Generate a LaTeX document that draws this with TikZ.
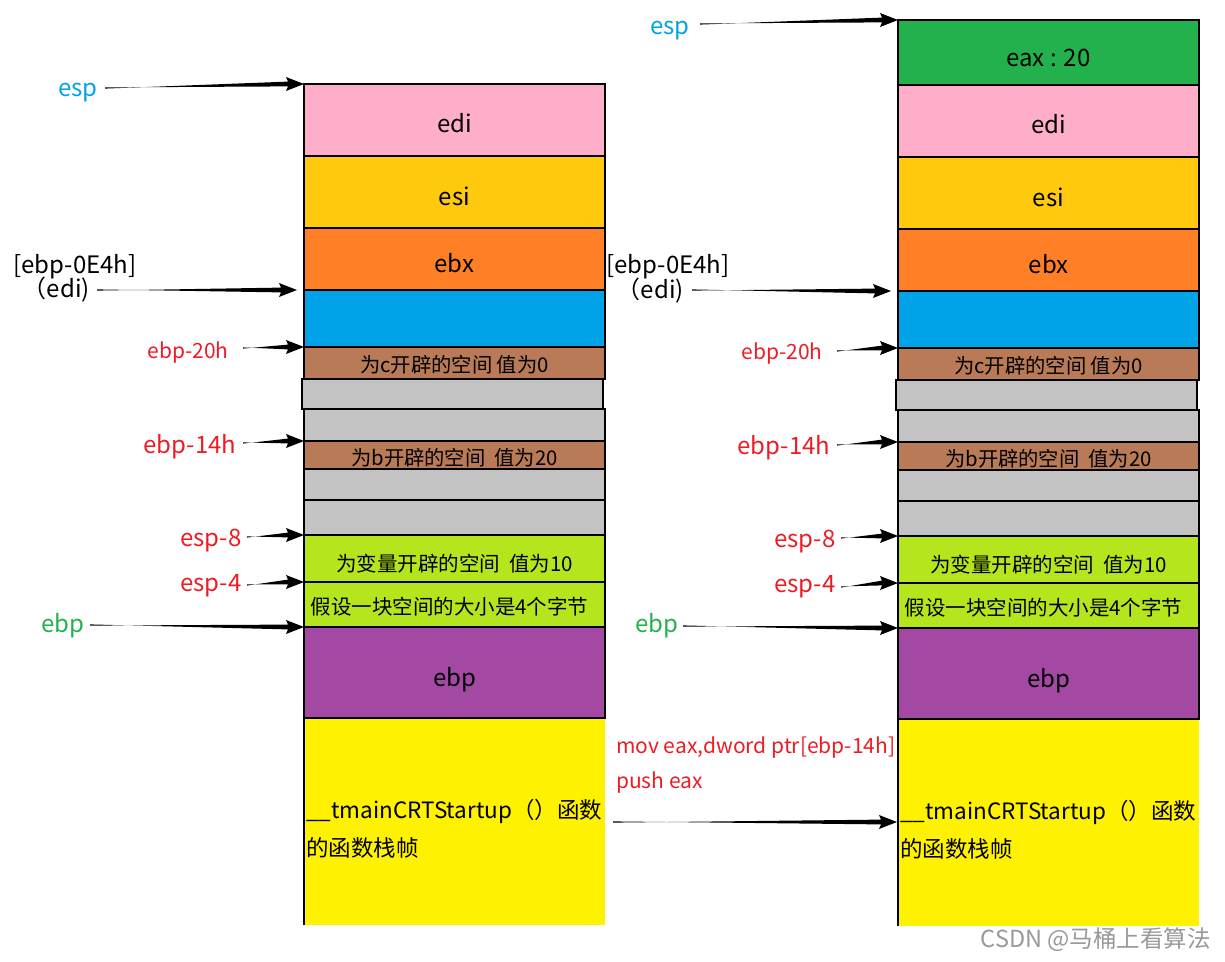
\documentclass[tikz,border=0pt]{standalone}
\usepackage{fontspec}
\setmainfont{Noto Sans CJK SC}
\usetikzlibrary{arrows.meta}
\definecolor{cpink}{HTML}{FFAEC9}
\definecolor{cgold}{HTML}{FFC90E}
\definecolor{corange}{HTML}{FF7F27}
\definecolor{cblue}{HTML}{00A2E8}
\definecolor{cbrown}{HTML}{B97A57}
\definecolor{cgray}{HTML}{C3C3C3}
\definecolor{clime}{HTML}{B5E61D}
\definecolor{cpurple}{HTML}{A349A4}
\definecolor{cyellow}{HTML}{FFF200}
\definecolor{cgreen}{HTML}{22B14C}
\definecolor{cred}{HTML}{ED1C24}
\newcommand\myfs[1]{\fontsize{#1}{#1}\selectfont}
\newcommand\dn[2]{\raisebox{-#1pt}[\height][\depth]{#2}}
\tikzset{
  blockbox/.style={draw=black, line width=1.5pt, inner sep=0pt, outer sep=0pt, minimum width=301pt, anchor=north west},
  lbl/.style={inner sep=0pt, font=\myfs{24}},
  redlbl/.style={lbl, text=cred},
  taper/.style={to path={([yshift=0.6pt]\tikztostart) -- ([shift={(-16,2.4)}]\tikztotarget) -- ([shift={(-18,7)}]\tikztotarget) -- (\tikztotarget) -- ([shift={(-18,-7)}]\tikztotarget) -- ([shift={(-16,-2.4)}]\tikztotarget) -- ([yshift=-0.6pt]\tikztostart) -- cycle}},
}
\begin{document}
\begin{tikzpicture}[x=1pt,y=-1pt]
\useasboundingbox (0,0) rectangle (1225,961);
\foreach \p/\dx/\dy in {L/0/0,R/594/1}{
  \node[blockbox, fill=cpink, minimum height=72pt, font=\myfs{24}] (\p edi) at (304+\dx,84+\dy) {\dn{3}{edi}};
  \node[blockbox, fill=cgold, minimum height=72pt, font=\myfs{24}] (\p esi) at (304+\dx,156+\dy) {\dn{4}{esi}};
  \node[blockbox, fill=corange, minimum height=62pt, font=\myfs{24}] (\p ebx) at (304+\dx,228+\dy) {\dn{4}{ebx}};
  \node[blockbox, fill=cblue, minimum height=57pt] (\p blue) at (304+\dx,290+\dy) {};
  \node[blockbox, fill=cbrown, minimum height=32pt, font=\myfs{20.3}] (\p brc) at (304+\dx,347+\dy) {\dn{2}{为c开辟的空间 值为0}};
  \node[blockbox, fill=cgray, minimum height=30pt] (\p gra) at (302+\dx,379+\dy) {};
  \node[blockbox, fill=cgray, minimum height=32pt] (\p grb) at (304+\dx,409+\dy) {};
  \node[blockbox, fill=cbrown, minimum height=28pt, font=\myfs{20.3}] (\p brb) at (304+\dx,441+\dy) {\dn{3}{为b开辟的空间\ \ 值为20}};
  \node[blockbox, fill=cgray, minimum height=31pt] (\p grc) at (304+\dx,469+\dy) {};
  \node[blockbox, fill=cgray, minimum height=35pt] (\p grd) at (304+\dx,500+\dy) {};
  \node[blockbox, fill=clime, minimum height=47pt, font=\myfs{20.5}] (\p lma) at (304+\dx,535+\dy) {\dn{5}{为变量开辟的空间\ \ 值为10}};
  \node[blockbox, fill=clime, minimum height=45pt, font=\myfs{20.5}] (\p lmb) at (304+\dx,582+\dy) {\dn{2}{\hspace*{-10pt}假设一块空间的大小是4个字节}};
  \node[fill=cyellow, inner sep=0pt, outer sep=0pt, minimum width=301pt, minimum height=207pt, anchor=north west] (\p yel) at (304+\dx,718+\dy) {};
  \draw[line width=1.5pt] (\p yel.north west) -- (\p yel.south west);
  \node[blockbox, fill=cpurple, minimum height=91pt, font=\myfs{24}] (\p pur) at (304+\dx,627+\dy) {\dn{7}{ebp}};
  \node[anchor=west, align=left, inner sep=0pt, font=\myfs{22.5}] (\p ytx) at (306+\dx,829+\dy) {\_\_tmainCRTStartup（）函数\\[13pt]的函数栈帧};
}
\node[blockbox, fill=cgreen, minimum height=65pt, font=\myfs{24}] (Reax) at (898,20) {\dn{5}{eax : 20}};

% left labels
\node[lbl, text=cblue] (Lesp) at (78,93) {esp};
\node[lbl] (Lebp0) at (75,267) {[ebp-0E4h]};
\node[lbl, anchor=east] (Ledil) at (90,290) {（edi)};
\node[redlbl, font=\myfs{21}] (Le20) at (188,353) {ebp-20h};
\node[redlbl] (Le14) at (190,447) {ebp-14h};
\node[redlbl] (Le8) at (211,541) {esp-8};
\node[redlbl] (Le4) at (211,586) {esp-4};
\node[lbl, text=cgreen] (Lebp) at (63,626) {ebp};
% right labels
\node[lbl, text=cblue] (Resp) at (670,31) {esp};
\node[lbl] (Rebp0) at (668,267) {[ebp-0E4h]};
\node[lbl, anchor=east] (Redil) at (684,291) {（edi)};
\node[redlbl, font=\myfs{21}] (Re20) at (782,354) {ebp-20h};
\node[redlbl] (Re14) at (784,448) {ebp-14h};
\node[redlbl] (Re8) at (805,542) {esp-8};
\node[redlbl] (Re4) at (805,587) {esp-4};
\node[lbl, text=cgreen] (Rebp) at (657,626) {ebp};
\node[redlbl, font=\myfs{21}, anchor=west] (mov) at (616,748) {mov eax,dword ptr[ebp-14h]};
\node[redlbl, font=\myfs{21}, anchor=west] (push) at (616,783) {push eax};
\node[anchor=east, inner sep=0pt, text=black!40, font=\myfs{23.5}] (wm) at (1211,940) {CSDN @马桶上看算法};

% tails and heads
\coordinate (Lt1) at (105,88);
\coordinate (Lt2) at (97,290);
\coordinate (Lh2) at (297,290);
\coordinate (Lt3) at (243,348);
\coordinate (Lt4) at (243,443);
\coordinate (Lt5) at (247,537);
\coordinate (Lt6) at (247,585);
\coordinate (Lt7) at (90,625);
\coordinate (Rt1) at (700,24);
\coordinate (Rt2) at (692,290);
\coordinate (Rh2) at (891,291);
\coordinate (Rt3) at (837,351);
\coordinate (Rt4) at (837,445);
\coordinate (Rt5) at (841,538);
\coordinate (Rt6) at (841,587);
\coordinate (Rt7) at (683,626);
\coordinate (Mt) at (613,822);
\coordinate (Mh) at (897,822);

\fill (Lt1) to[taper] (Ledi.north west);
\fill (Lt2) to[taper] (Lh2);
\fill (Lt3) to[taper] (Lbrc.north west);
\fill (Lt4) to[taper] (Lbrb.north west);
\fill (Lt5) to[taper] (Llma.north west);
\fill (Lt6) to[taper] (Llmb.north west);
\fill (Lt7) to[taper] (Lpur.north west);
\fill (Rt1) to[taper] (Reax.north west);
\fill (Rt2) to[taper] (Rh2);
\fill (Rt3) to[taper] (Rbrc.north west);
\fill (Rt4) to[taper] (Rbrb.north west);
\fill (Rt5) to[taper] (Rlma.north west);
\fill (Rt6) to[taper] (Rlmb.north west);
\fill (Rt7) to[taper] (Rpur.north west);
\fill (Mt) to[taper] (Mh);
\end{tikzpicture}
\end{document}
